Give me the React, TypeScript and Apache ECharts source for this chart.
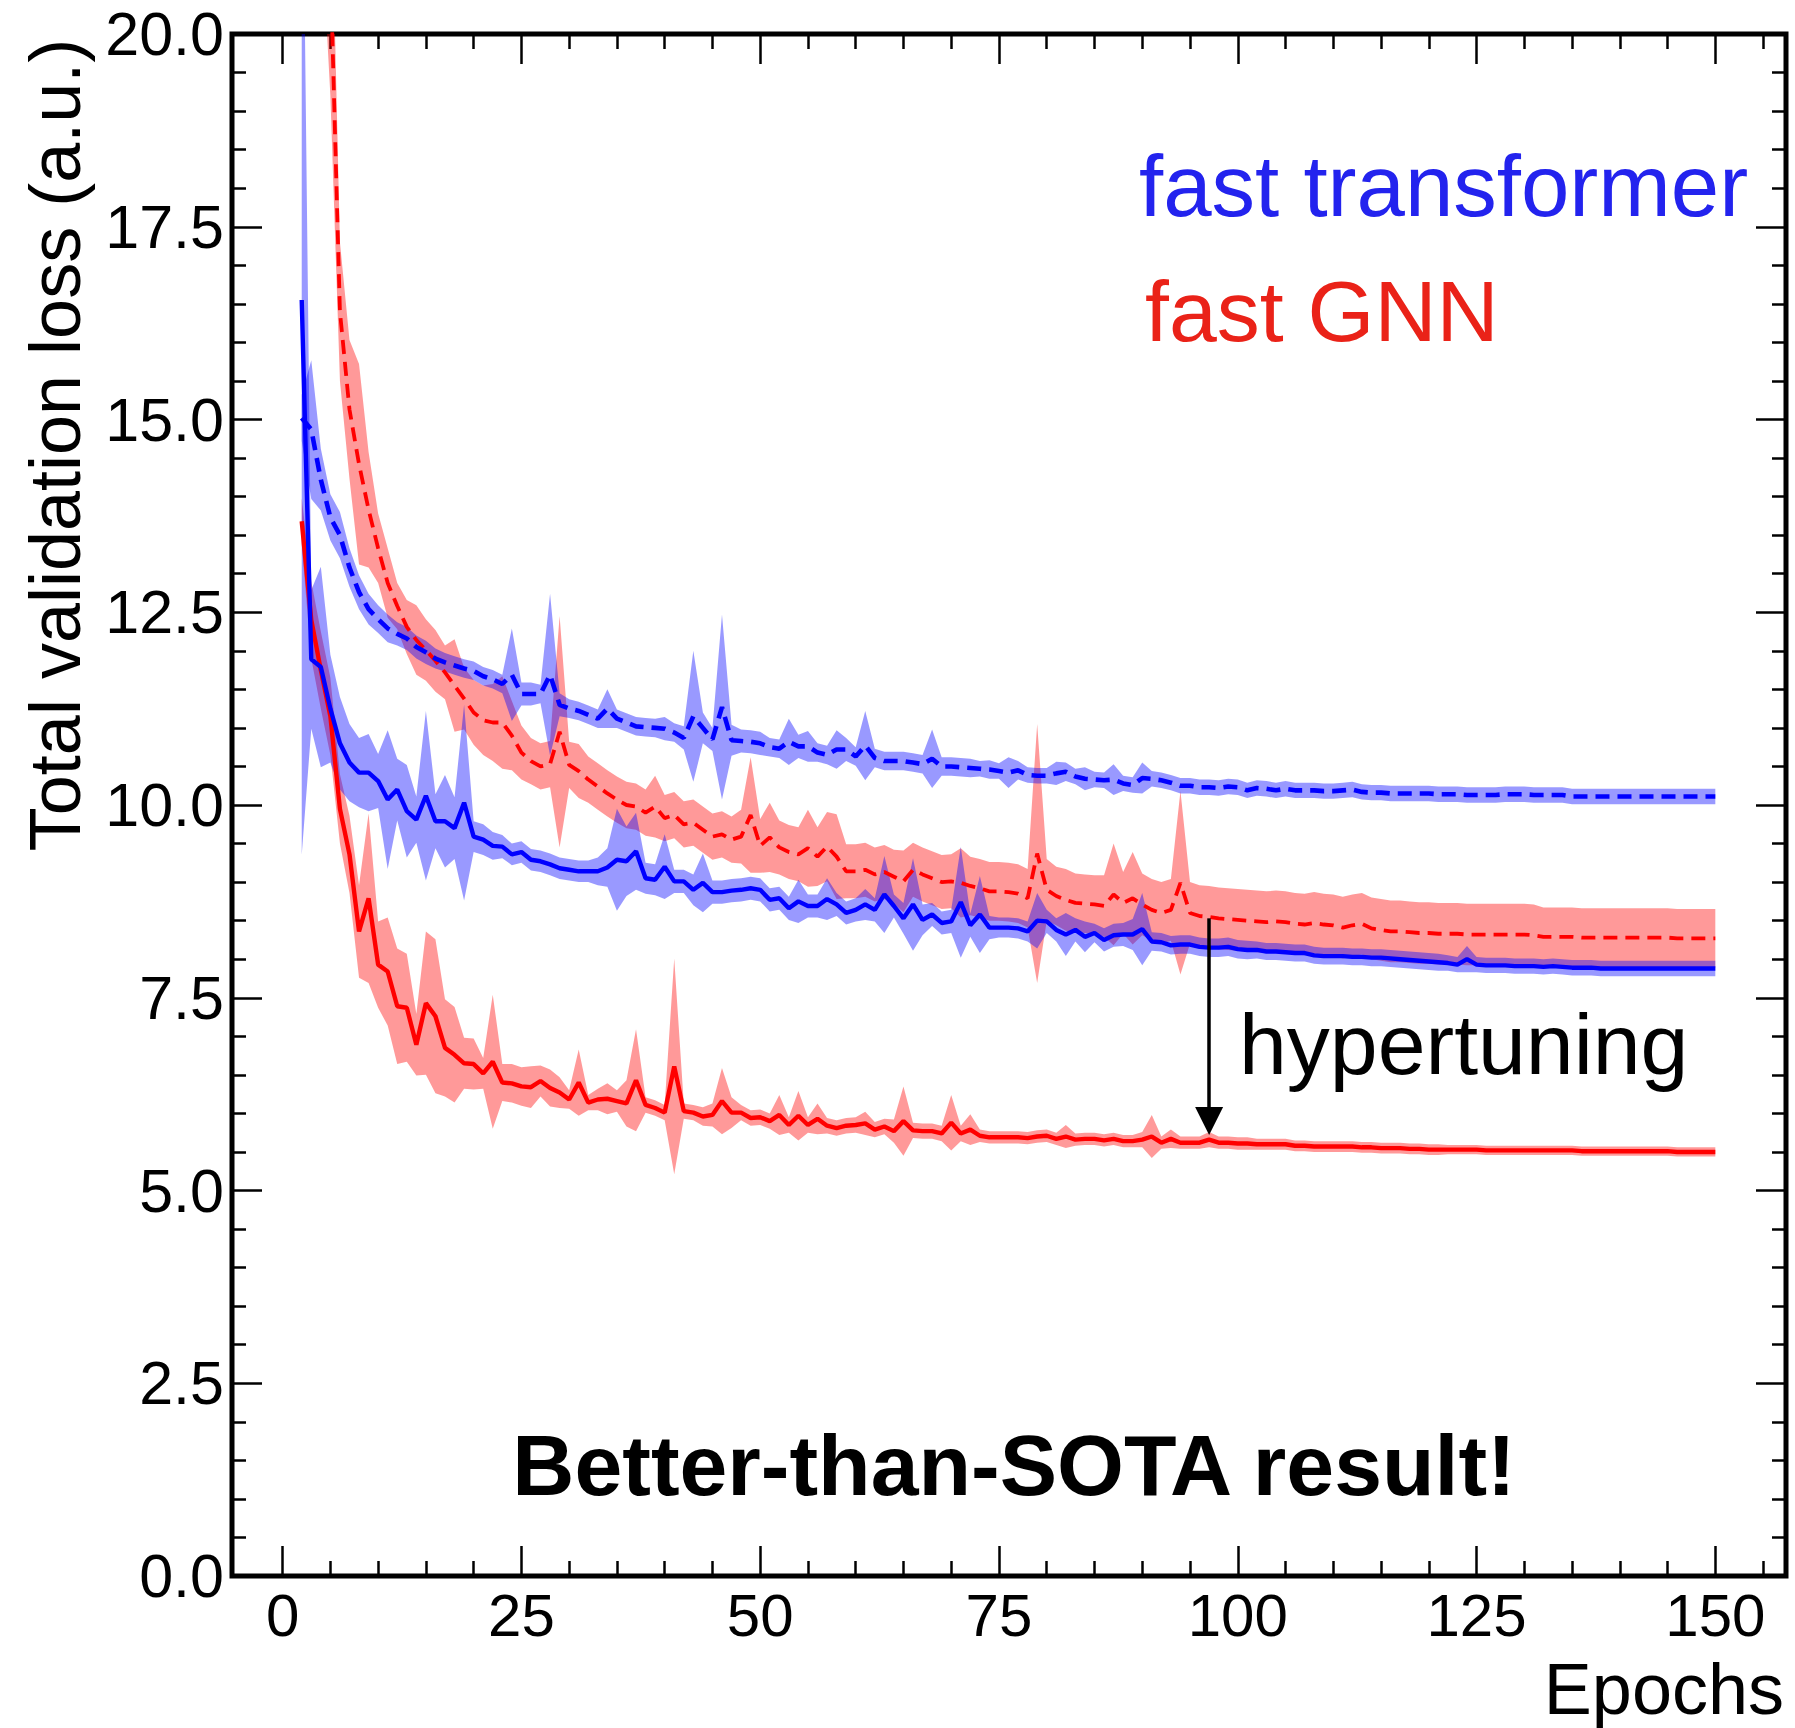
import React, { useEffect, useRef } from "react";
import * as echarts from "echarts";

// ---------- data (epochs 2..150, one value per epoch) ----------
const FIRST_EPOCH = 2;

// fast transformer, before hypertuning (dashed blue)
const TRANSFORMER_BASE = [
  15.02, 14.87, 14.22, 13.73, 13.5, 13.08, 12.76, 12.54, 12.41, 12.29,
  12.22, 12.16, 12.05, 11.98, 11.9, 11.85, 11.81, 11.77, 11.74, 11.67,
  11.63, 11.57, 11.69, 11.44, 11.44, 11.44, 11.69, 11.3, 11.25, 11.22,
  11.17, 11.12, 11.25, 11.12, 11.07, 11.02, 11.01, 11.0, 10.99, 10.94,
  10.87, 11.15, 11.0, 10.85, 11.27, 10.84, 10.83, 10.82, 10.8, 10.75,
  10.73, 10.82, 10.76, 10.76, 10.68, 10.65, 10.72, 10.72, 10.63, 10.77,
  10.61, 10.57, 10.57, 10.57, 10.55, 10.53, 10.6, 10.5, 10.5, 10.49,
  10.48, 10.47, 10.46, 10.44, 10.42, 10.45, 10.39, 10.38, 10.38, 10.41,
  10.43, 10.37, 10.34, 10.33, 10.32, 10.33, 10.28, 10.26, 10.35, 10.34,
  10.32, 10.29, 10.25, 10.25, 10.23, 10.23, 10.22, 10.24, 10.23, 10.19,
  10.22, 10.21, 10.19, 10.21, 10.19, 10.19, 10.19, 10.18, 10.18, 10.19,
  10.2, 10.17, 10.16, 10.16, 10.15, 10.15, 10.15, 10.15, 10.15, 10.14,
  10.14, 10.14, 10.13, 10.13, 10.13, 10.13, 10.14, 10.14, 10.14, 10.13,
  10.13, 10.13, 10.13, 10.11, 10.11, 10.11, 10.11, 10.11, 10.11, 10.11,
  10.11, 10.11, 10.11, 10.11, 10.11, 10.11, 10.11, 10.11, 10.11,
];
const TRANSFORMER_BASE_ERR = [
  0.3, 0.9, 0.4, 0.3, 0.3, 0.25, 0.22, 0.2, 0.18, 0.18,
  0.15, 0.15, 0.15, 0.15, 0.13, 0.12, 0.12, 0.12, 0.12, 0.12,
  0.12, 0.12, 0.6, 0.15, 0.15, 0.12, 1.05, 0.15, 0.12, 0.12,
  0.12, 0.12, 0.25, 0.12, 0.12, 0.12, 0.12, 0.12, 0.15, 0.12,
  0.15, 0.85, 0.2, 0.15, 1.2, 0.2, 0.15, 0.15, 0.15, 0.12,
  0.12, 0.3, 0.15, 0.2, 0.12, 0.12, 0.25, 0.15, 0.12, 0.45,
  0.12, 0.12, 0.12, 0.12, 0.12, 0.12, 0.38, 0.12, 0.12, 0.12,
  0.12, 0.1, 0.12, 0.1, 0.2, 0.12, 0.1, 0.1, 0.1, 0.15,
  0.12, 0.1, 0.15, 0.1, 0.1, 0.2, 0.1, 0.1, 0.2, 0.1,
  0.1, 0.1, 0.1, 0.1, 0.1, 0.1, 0.1, 0.1, 0.1, 0.1,
  0.1, 0.1, 0.1, 0.1, 0.1, 0.1, 0.1, 0.1, 0.1, 0.1,
  0.1, 0.1, 0.1, 0.1, 0.1, 0.1, 0.1, 0.1, 0.1, 0.1,
  0.1, 0.1, 0.1, 0.1, 0.1, 0.1, 0.1, 0.1, 0.1, 0.1,
  0.1, 0.1, 0.1, 0.1, 0.1, 0.1, 0.1, 0.1, 0.1, 0.1,
  0.1, 0.1, 0.1, 0.1, 0.1, 0.1, 0.1, 0.1, 0.1,
];

// fast transformer, hypertuned (solid blue)
const TRANSFORMER_TUNED = [
  16.55, 11.89, 11.79, 11.25, 10.8, 10.55, 10.42, 10.42, 10.31, 10.07,
  10.2, 9.92, 9.81, 10.12, 9.79, 9.79, 9.7, 10.03, 9.59, 9.55,
  9.47, 9.46, 9.36, 9.39, 9.29, 9.27, 9.23, 9.18, 9.16, 9.14,
  9.14, 9.14, 9.19, 9.29, 9.27, 9.4, 9.05, 9.03, 9.2, 9.01,
  9.01, 8.9, 8.99, 8.87, 8.87, 8.89, 8.9, 8.92, 8.9, 8.77,
  8.79, 8.66, 8.75, 8.69, 8.69, 8.78, 8.71, 8.6, 8.64, 8.71,
  8.64, 8.84, 8.69, 8.53, 8.71, 8.51, 8.58, 8.47, 8.49, 8.74,
  8.44, 8.58, 8.41, 8.41, 8.41, 8.4, 8.36, 8.5, 8.49, 8.38,
  8.32, 8.38, 8.29, 8.34, 8.25, 8.31, 8.32, 8.32, 8.39, 8.23,
  8.22, 8.18, 8.19, 8.19, 8.16, 8.15, 8.15, 8.16, 8.13, 8.12,
  8.12, 8.1, 8.1, 8.09, 8.08, 8.08, 8.05, 8.04, 8.04, 8.04,
  8.03, 8.03, 8.02, 8.02, 8.01, 8.0, 7.99, 7.98, 7.97, 7.96,
  7.95, 7.93, 8.0, 7.93, 7.92, 7.92, 7.92, 7.91, 7.91, 7.91,
  7.9, 7.91, 7.9, 7.89, 7.89, 7.89, 7.88, 7.88, 7.88, 7.88,
  7.88, 7.88, 7.88, 7.88, 7.88, 7.88, 7.88, 7.88, 7.88,
];
const TRANSFORMER_TUNED_ERR = [
  7.2, 0.9, 1.3, 0.7, 0.6, 0.5, 0.45, 0.5, 0.35, 0.9,
  0.4, 0.6, 0.3, 1.1, 0.35, 0.6, 0.4, 1.27, 0.2, 0.2,
  0.18, 0.15, 0.14, 0.14, 0.14, 0.14, 0.14, 0.14, 0.14, 0.14,
  0.14, 0.18, 0.25, 0.66, 0.45, 0.5, 0.2, 0.2, 0.42, 0.15,
  0.15, 0.2, 0.38, 0.15, 0.15, 0.15, 0.15, 0.15, 0.15, 0.15,
  0.15, 0.15, 0.28, 0.15, 0.15, 0.27, 0.15, 0.15, 0.15, 0.2,
  0.15, 0.5, 0.15, 0.2, 0.6, 0.2, 0.15, 0.15, 0.15, 0.72,
  0.15, 0.5, 0.15, 0.13, 0.13, 0.13, 0.13, 0.36, 0.15, 0.15,
  0.28, 0.15, 0.2, 0.12, 0.15, 0.15, 0.15, 0.2, 0.47, 0.12,
  0.12, 0.12, 0.12, 0.12, 0.12, 0.12, 0.12, 0.12, 0.12, 0.12,
  0.11, 0.11, 0.11, 0.11, 0.11, 0.11, 0.11, 0.11, 0.11, 0.11,
  0.11, 0.11, 0.11, 0.11, 0.11, 0.11, 0.11, 0.11, 0.11, 0.11,
  0.1, 0.1, 0.17, 0.1, 0.1, 0.1, 0.1, 0.1, 0.1, 0.1,
  0.1, 0.1, 0.1, 0.1, 0.1, 0.1, 0.1, 0.1, 0.1, 0.1,
  0.1, 0.1, 0.1, 0.1, 0.1, 0.1, 0.1, 0.1, 0.1,
];

// fast GNN, before hypertuning (dashed red)
const GNN_BASE = [
  32, 27, 23.5, 20.9, 16.4, 15.13, 14.42, 13.83, 13.33, 12.88,
  12.58, 12.31, 12.14, 12.01, 11.87, 11.72, 11.55, 11.38, 11.2, 11.1,
  11.07, 11.07, 10.9, 10.68, 10.57, 10.5, 10.53, 10.95, 10.52, 10.44,
  10.33, 10.24, 10.15, 10.07, 10.0, 9.98, 9.9, 9.98, 9.83, 9.87,
  9.75, 9.77, 9.68, 9.59, 9.62, 9.55, 9.59, 9.87, 9.47, 9.58,
  9.45, 9.39, 9.36, 9.44, 9.33, 9.46, 9.33, 9.14, 9.14, 9.16,
  9.1, 9.13, 9.07, 9.01, 9.16, 9.1, 9.05, 9.0, 9.01, 8.99,
  8.95, 8.92, 8.88, 8.88, 8.87, 8.85, 8.79, 9.37, 8.9, 8.82,
  8.77, 8.73, 8.72, 8.71, 8.69, 8.84, 8.73, 8.79, 8.71, 8.64,
  8.6, 8.64, 8.99, 8.6, 8.56, 8.55, 8.53, 8.52, 8.51, 8.5,
  8.49, 8.48, 8.49, 8.48, 8.46, 8.45, 8.47, 8.45, 8.44, 8.41,
  8.44, 8.46, 8.4, 8.38, 8.36, 8.36, 8.35, 8.34, 8.34, 8.33,
  8.33, 8.33, 8.32, 8.32, 8.32, 8.32, 8.32, 8.32, 8.32, 8.31,
  8.29, 8.29, 8.29, 8.29, 8.28, 8.28, 8.28, 8.28, 8.28, 8.28,
  8.28, 8.28, 8.28, 8.28, 8.27, 8.27, 8.27, 8.27, 8.27,
];
const GNN_BASE_ERR = [
  2, 2, 2, 1.7, 0.9, 0.9, 1.3, 0.75, 0.45, 0.45,
  0.3, 0.35, 0.45, 0.4, 0.4, 0.35, 0.6, 0.4, 0.42, 0.45,
  0.5, 0.6, 0.45, 0.35, 0.3, 0.3, 0.3, 1.5, 0.3, 0.35,
  0.3, 0.3, 0.3, 0.3, 0.3, 0.3, 0.3, 0.4, 0.3, 0.3,
  0.3, 0.3, 0.3, 0.3, 0.3, 0.3, 0.35, 0.75, 0.35, 0.45,
  0.35, 0.35, 0.35, 0.5, 0.38, 0.45, 0.55, 0.35, 0.35, 0.35,
  0.35, 0.35, 0.35, 0.4, 0.35, 0.35, 0.35, 0.35, 0.35, 0.45,
  0.38, 0.38, 0.38, 0.38, 0.38, 0.38, 0.38, 1.68, 0.4, 0.38,
  0.4, 0.38, 0.38, 0.38, 0.4, 0.66, 0.4, 0.6, 0.4, 0.4,
  0.4, 0.4, 1.19, 0.4, 0.4, 0.4, 0.4, 0.4, 0.4, 0.4,
  0.4, 0.4, 0.4, 0.4, 0.4, 0.4, 0.4, 0.4, 0.4, 0.4,
  0.4, 0.4, 0.4, 0.4, 0.4, 0.4, 0.4, 0.4, 0.4, 0.4,
  0.4, 0.4, 0.4, 0.4, 0.4, 0.4, 0.4, 0.4, 0.4, 0.4,
  0.38, 0.38, 0.38, 0.38, 0.38, 0.38, 0.38, 0.38, 0.38, 0.38,
  0.38, 0.38, 0.38, 0.38, 0.38, 0.38, 0.38, 0.38, 0.38,
];

// fast GNN, hypertuned (solid red)
const GNN_TUNED = [
  13.68, 12.4, 11.75, 11.15, 9.95, 9.36, 8.36, 8.79, 7.93, 7.84,
  7.39, 7.37, 6.89, 7.43, 7.26, 6.85, 6.76, 6.65, 6.64, 6.52,
  6.67, 6.4, 6.39, 6.35, 6.34, 6.42, 6.33, 6.27, 6.18, 6.4,
  6.14, 6.18, 6.19, 6.16, 6.13, 6.43, 6.11, 6.07, 6.01, 6.61,
  6.03, 6.01, 5.96, 5.98, 6.16, 6.01, 6.01, 5.94, 5.95, 5.9,
  5.98, 5.85, 5.97, 5.85, 5.93, 5.84, 5.81, 5.84, 5.85, 5.87,
  5.79, 5.83, 5.77, 5.9, 5.78, 5.77, 5.77, 5.74, 5.88, 5.74,
  5.79, 5.71, 5.69, 5.69, 5.69, 5.69, 5.68, 5.7, 5.71, 5.67,
  5.7, 5.66, 5.67, 5.67, 5.65, 5.67, 5.64, 5.64, 5.66, 5.7,
  5.62, 5.67, 5.62, 5.62, 5.62, 5.66, 5.62, 5.62, 5.61, 5.61,
  5.6, 5.6, 5.6, 5.6, 5.58, 5.58, 5.57, 5.57, 5.57, 5.57,
  5.57, 5.56, 5.56, 5.55, 5.55, 5.55, 5.54, 5.54, 5.53, 5.53,
  5.53, 5.53, 5.53, 5.53, 5.52, 5.52, 5.52, 5.52, 5.52, 5.52,
  5.52, 5.52, 5.52, 5.52, 5.51, 5.51, 5.51, 5.51, 5.51, 5.51,
  5.51, 5.51, 5.51, 5.51, 5.5, 5.5, 5.5, 5.5, 5.5,
];
const GNN_TUNED_ERR = [
  0.3, 0.5, 0.5, 0.5, 0.45, 0.5, 0.6, 1.1, 0.56, 0.7,
  0.75, 0.7, 0.4, 0.93, 1.0, 0.63, 0.62, 0.33, 0.33, 0.2,
  0.87, 0.24, 0.25, 0.25, 0.27, 0.2, 0.24, 0.2, 0.12, 0.43,
  0.1, 0.14, 0.2, 0.14, 0.3, 0.66, 0.1, 0.1, 0.1, 1.4,
  0.1, 0.1, 0.12, 0.15, 0.43, 0.2, 0.1, 0.1, 0.1, 0.1,
  0.26, 0.1, 0.32, 0.1, 0.2, 0.1, 0.1, 0.1, 0.1, 0.15,
  0.1, 0.1, 0.15, 0.45, 0.1, 0.1, 0.1, 0.1, 0.36, 0.1,
  0.2, 0.08, 0.08, 0.08, 0.08, 0.08, 0.08, 0.08, 0.08, 0.08,
  0.15, 0.08, 0.08, 0.08, 0.08, 0.08, 0.08, 0.08, 0.1, 0.28,
  0.08, 0.12, 0.08, 0.08, 0.08, 0.1, 0.08, 0.08, 0.08, 0.08,
  0.07, 0.07, 0.07, 0.07, 0.07, 0.07, 0.07, 0.07, 0.07, 0.07,
  0.07, 0.07, 0.07, 0.07, 0.07, 0.07, 0.07, 0.07, 0.07, 0.07,
  0.06, 0.06, 0.06, 0.06, 0.06, 0.06, 0.06, 0.06, 0.06, 0.06,
  0.06, 0.06, 0.06, 0.06, 0.06, 0.06, 0.06, 0.06, 0.06, 0.06,
  0.06, 0.06, 0.06, 0.06, 0.06, 0.06, 0.06, 0.06, 0.06,
];

// axes
const X_MIN = -5.3;
const X_MAX = 157.4;
const X_TICK_MAX = 175;
const X_TICK_STEP = 25;
const X_LABEL_LAST = 150;
const Y_MIN = 0;
const Y_MAX = 20;
const Y_TICK_STEP = 2.5;

// hypertuning arrow (epoch, from value, to value)
const ARROW_EPOCH = 97;
const ARROW_FROM = 8.53;
const ARROW_TO = 5.9;

// ---------- layout ----------
const W = 1795;
const H = 1728;
const PLOT_L = 232;
const PLOT_R = 1786;
const PLOT_T = 34;
const PLOT_B = 1576;
const FONT = '"Liberation Sans", Arial, Helvetica, sans-serif';

const pxPerEpoch = (PLOT_R - PLOT_L) / (X_MAX - X_MIN);
const tickGridLeft = PLOT_L + (0 - X_MIN) * pxPerEpoch;
const tickGridWidth = X_TICK_MAX * pxPerEpoch;

function pairs(vals: number[], f: (v: number, i: number) => number) {
  return vals.map((v, i) => [FIRST_EPOCH + i, f(v, i)]);
}

function bandSeries(mean: number[], err: number[], color: string) {
  const upper = pairs(mean, (v, i) => v + err[i]);
  const lower = pairs(mean, (v, i) => v - err[i]);
  const outline = upper.concat(lower.slice().reverse());
  return {
    type: "custom",
    coordinateSystem: "cartesian2d",
    xAxisIndex: 0,
    yAxisIndex: 0,
    data: [[FIRST_EPOCH, mean[0]]],
    clip: true,
    silent: true,
    z: 1,
    renderItem: (params: any, api: any) => {
      const cs = params.coordSys;
      return {
        type: "polygon",
        shape: { points: outline.map((p) => api.coord(p)) },
        style: { fill: color, stroke: "none" },
        clipPath: { type: "rect", shape: { x: cs.x, y: cs.y, width: cs.width, height: cs.height } },
      };
    },
  };
}

function lineSeries(mean: number[], color: string, width: number, dashed: boolean, extra: any = {}) {
  return {
    type: "line",
    xAxisIndex: 0,
    yAxisIndex: 0,
    data: pairs(mean, (v) => v),
    symbol: "none",
    lineStyle: { color, width, type: dashed ? [14, 8] : "solid" },
    silent: true,
    z: 3,
    ...extra,
  };
}

const tickStyle = { color: "#000", width: 2.5 };

export default function App() {
  const ref = useRef<HTMLDivElement>(null);
  useEffect(() => {
    if (!ref.current) return;
    const chart = echarts.init(ref.current, undefined, { renderer: "svg", width: W, height: H });
    const option: any = {
      animation: false,
      backgroundColor: "#fff",
      grid: [
        {
          left: PLOT_L,
          right: W - PLOT_R,
          top: PLOT_T,
          bottom: H - PLOT_B,
          show: true,
          borderColor: "#000",
          borderWidth: 5,
          backgroundColor: "transparent",
          outerBoundsMode: "none",
          containLabel: false,
        },
        {
          left: tickGridLeft,
          width: tickGridWidth,
          top: PLOT_T,
          bottom: H - PLOT_B,
          show: false,
          outerBoundsMode: "none",
          containLabel: false,
        },
      ],
      xAxis: [
        { gridIndex: 0, type: "value", min: X_MIN, max: X_MAX, show: false },
        {
          gridIndex: 1,
          type: "value",
          position: "bottom",
          min: 0,
          max: X_TICK_MAX,
          interval: X_TICK_STEP,
          axisLine: { show: false, onZero: false },
          axisTick: { show: true, inside: true, length: 30, lineStyle: tickStyle },
          minorTick: { show: true, splitNumber: 5, length: 15, lineStyle: tickStyle },
          splitLine: { show: false },
          axisLabel: {
            show: true,
            margin: 9,
            color: "#000",
            fontSize: 60,
            fontFamily: FONT,
            formatter: (v: number) => (v <= X_LABEL_LAST ? String(v) : ""),
          },
        },
        {
          gridIndex: 1,
          type: "value",
          position: "top",
          min: 0,
          max: X_TICK_MAX,
          interval: X_TICK_STEP,
          axisLine: { show: false, onZero: false },
          axisTick: { show: true, inside: true, length: 30, lineStyle: tickStyle },
          minorTick: { show: true, splitNumber: 5, length: 15, lineStyle: tickStyle },
          splitLine: { show: false },
          axisLabel: { show: false },
        },
      ],
      yAxis: [
        {
          gridIndex: 0,
          type: "value",
          position: "left",
          min: Y_MIN,
          max: Y_MAX,
          interval: Y_TICK_STEP,
          axisLine: { show: false, onZero: false },
          axisTick: { show: true, inside: true, length: 30, lineStyle: tickStyle },
          minorTick: { show: true, splitNumber: 5, length: 14, lineStyle: tickStyle },
          splitLine: { show: false },
          axisLabel: {
            show: true,
            margin: 8,
            color: "#000",
            fontSize: 61,
            fontFamily: FONT,
            formatter: (v: number) => v.toFixed(1),
          },
        },
        {
          gridIndex: 0,
          type: "value",
          position: "right",
          min: Y_MIN,
          max: Y_MAX,
          interval: Y_TICK_STEP,
          axisLine: { show: false, onZero: false },
          axisTick: { show: true, inside: true, length: 30, lineStyle: tickStyle },
          minorTick: { show: true, splitNumber: 5, length: 14, lineStyle: tickStyle },
          splitLine: { show: false },
          axisLabel: { show: false },
        },
        { gridIndex: 1, type: "value", min: Y_MIN, max: Y_MAX, show: false },
      ],
      series: [
        bandSeries(GNN_BASE, GNN_BASE_ERR, "rgba(255,0,0,0.4)"),
        bandSeries(GNN_TUNED, GNN_TUNED_ERR, "rgba(255,0,0,0.4)"),
        bandSeries(TRANSFORMER_BASE, TRANSFORMER_BASE_ERR, "rgba(0,0,255,0.4)"),
        bandSeries(TRANSFORMER_TUNED, TRANSFORMER_TUNED_ERR, "rgba(0,0,255,0.4)"),
        lineSeries(GNN_BASE, "#ff0000", 3.8, true),
        lineSeries(GNN_TUNED, "#ff0000", 4.4, false, {
          markLine: {
            silent: true,
            symbol: ["none", "triangle"],
            symbolSize: 28,
            label: { show: false },
            lineStyle: { color: "#000", width: 3.5, type: "solid" },
            data: [[{ coord: [ARROW_EPOCH, ARROW_FROM] }, { coord: [ARROW_EPOCH, ARROW_TO] }]],
          },
        }),
        lineSeries(TRANSFORMER_BASE, "#0000ff", 4.6, true),
        lineSeries(TRANSFORMER_TUNED, "#0000ff", 4.4, false),
      ],
      graphic: [
        {
          type: "text",
          x: 55,
          y: 445,
          rotation: Math.PI / 2,
          style: {
            text: "Total validation loss (a.u.)",
            fontSize: 72,
            fontFamily: FONT,
            fill: "#000",
            align: "center",
            verticalAlign: "middle",
          },
        },
        {
          type: "text",
          x: 1784,
          y: 1689,
          style: {
            text: "Epochs",
            fontSize: 72,
            fontFamily: FONT,
            fill: "#000",
            align: "right",
            verticalAlign: "middle",
          },
        },
        {
          type: "text",
          x: 1139,
          y: 185,
          style: {
            text: "fast transformer",
            fontSize: 87,
            fontFamily: FONT,
            fill: "#2323ee",
            align: "left",
            verticalAlign: "middle",
          },
        },
        {
          type: "text",
          x: 1145,
          y: 311,
          style: {
            text: "fast GNN",
            fontSize: 86,
            fontFamily: FONT,
            fill: "#ea2218",
            align: "left",
            verticalAlign: "middle",
          },
        },
        {
          type: "text",
          x: 1239,
          y: 1044,
          style: {
            text: "hypertuning",
            fontSize: 86,
            fontFamily: FONT,
            fill: "#000",
            align: "left",
            verticalAlign: "middle",
          },
        },
        {
          type: "text",
          x: 1014,
          y: 1465,
          style: {
            text: "Better-than-SOTA result!",
            fontSize: 86,
            fontWeight: "bold",
            fontFamily: FONT,
            fill: "#000",
            align: "center",
            verticalAlign: "middle",
          },
        },
      ],
    };
    chart.setOption(option);
    return () => chart.dispose();
  }, []);
  return (
    <div
      ref={ref}
      style={{ position: "fixed", left: 0, top: 0, width: W, height: H, background: "#fff" }}
    />
  );
}
